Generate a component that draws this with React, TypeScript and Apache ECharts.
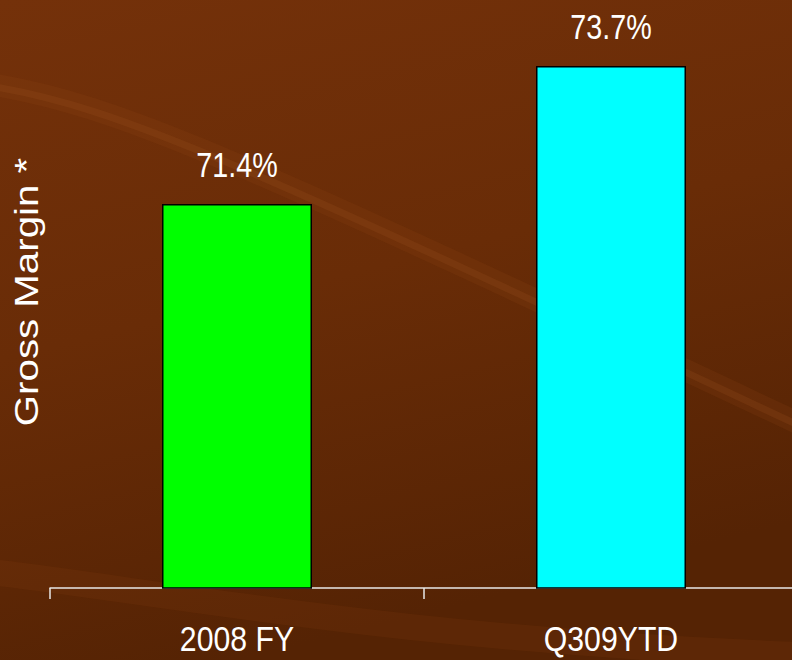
import React, { useEffect, useRef } from "react";
import * as echarts from "echarts";

const categories = ["2008 FY", "Q309YTD"];
const grossMargin = [71.4, 73.7];
const barColors = ["#00ff00", "#00ffff"];
const axisTitle = "Gross Margin *";

const SANS = "'Liberation Sans', Arial, sans-serif";

export default function App() {
  const ref = useRef<HTMLDivElement>(null);
  useEffect(() => {
    if (!ref.current) return;
    const chart = echarts.init(ref.current, undefined, { renderer: "svg" });
    chart.setOption({
      animation: false,
      backgroundColor: {
        type: "linear",
        x: 0, y: 0, x2: 0.3, y2: 1,
        colorStops: [
          { offset: 0, color: "#74310a" },
          { offset: 0.5, color: "#692c07" },
          { offset: 1, color: "#552304" },
        ],
      },
      grid: { left: 50, right: 2, top: 18, bottom: 72 },
      xAxis: {
        type: "category",
        data: categories,
        axisLine: { lineStyle: { color: "#e8e8e8", width: 1.5 } },
        axisTick: { show: true, length: 11, lineStyle: { color: "#e8e8e8", width: 1.5 } },
        axisLabel: { show: false },
      },
      yAxis: { type: "value", min: 65, max: 74.5, show: false },
      series: [
        {
          type: "bar",
          barWidth: 150,
          data: grossMargin.map((v, i) => ({ value: v, itemStyle: { color: barColors[i] } })),
          itemStyle: { borderColor: "#000000", borderWidth: 1.5 },
        },
      ],
    });

    const graphics: any[] = [
      {
        type: "bezierCurve",
        z: -10,
        silent: true,
        shape: { x1: -10, y1: 84, cpx1: 120, cpy1: 105, cpx2: 250, cpy2: 165, x2: 800, y2: 424 },
        style: { stroke: "#93481a", lineWidth: 22, opacity: 0.16, fill: "none" },
      },
      {
        type: "bezierCurve",
        z: -9,
        silent: true,
        shape: { x1: -10, y1: 86, cpx1: 120, cpy1: 107, cpx2: 250, cpy2: 167, x2: 800, y2: 426 },
        style: { stroke: "#9c5120", lineWidth: 7, opacity: 0.22, fill: "none" },
      },
      {
        type: "bezierCurve",
        z: -10,
        silent: true,
        shape: { x1: -10, y1: 572, cpx1: 150, cpy1: 590, cpx2: 400, cpy2: 640, x2: 800, y2: 655 },
        style: { stroke: "#8e4414", lineWidth: 26, opacity: 0.15, fill: "none" },
      },
      {
        type: "text",
        x: 27,
        y: 292,
        rotation: Math.PI / 2,
        scaleX: 1.22,
        style: {
          text: axisTitle,
          fill: "#ffffff",
          font: "33px " + SANS,
          textAlign: "center",
          textVerticalAlign: "middle",
        },
      },
    ];

    categories.forEach((c, i) => {
      const top = chart.convertToPixel({ xAxisIndex: 0, yAxisIndex: 0 }, [i, grossMargin[i]]) as number[];
      const base = chart.convertToPixel({ xAxisIndex: 0, yAxisIndex: 0 }, [i, 65]) as number[];
      graphics.push({
        type: "text",
        x: top[0],
        y: top[1] - 39,
        scaleX: 0.82,
        style: {
          text: grossMargin[i] + "%",
          fill: "#ffffff",
          font: "35px " + SANS,
          textAlign: "center",
          textVerticalAlign: "middle",
        },
      });
      graphics.push({
        type: "text",
        x: base[0],
        y: base[1] + 51,
        scaleX: 0.84,
        style: {
          text: c,
          fill: "#ffffff",
          font: "36px " + SANS,
          textAlign: "center",
          textVerticalAlign: "middle",
        },
      });
    });

    chart.setOption({ graphic: graphics });
    return () => chart.dispose();
  }, []);
  return (
    <div style={{ position: "fixed", left: 0, top: 0, width: 792, height: 660, overflow: "hidden" }}>
      <div ref={ref} style={{ width: 800, height: 660 }} />
    </div>
  );
}
